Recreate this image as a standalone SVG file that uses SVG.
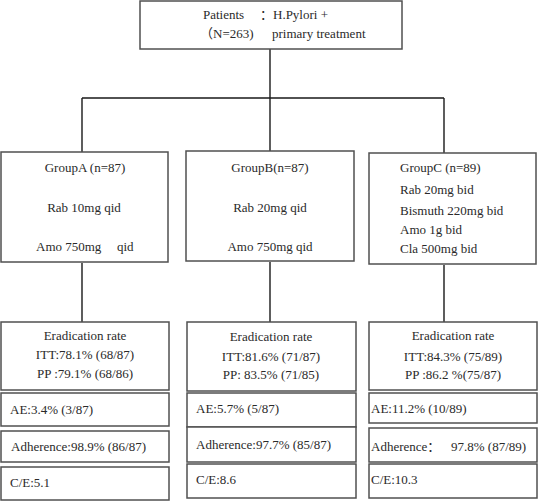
<svg xmlns="http://www.w3.org/2000/svg" width="539" height="501" viewBox="0 0 539 501">
<style>
.box{fill:#fff;stroke:#505050;stroke-width:1.5}
.t{font-family:"Liberation Serif","Noto Sans CJK SC",serif;font-size:13px;fill:#2a2a2a}
.c{text-anchor:middle}
.ln{stroke:#1a1a1a;stroke-width:1.4;fill:none}
</style>
<rect x="0" y="0" width="539" height="501" fill="#fff"/>
<g id="connectors">
<path class="ln" d="M270 49V151M82 98H444M82 98V152M444 98V153"/>
<path class="ln" d="M82 263V322M270 262V322M444 265V322"/>
</g>
<g id="patients">
<rect class="box" x="140" y="1" width="262" height="48"/>
<text class="t" x="203" y="19">Patients</text>
<text class="t" x="260" y="19">：H.Pylori +</text>
<text class="t" x="200" y="38">（N=263)</text>
<text class="t" x="272" y="38">primary treatment</text>
</g>
<g id="groupA">
<rect class="box" x="1" y="152" width="167" height="110"/>
<text class="t c" x="85" y="172">GroupA (n=87)</text>
<text class="t c" x="84" y="212">Rab 10mg qid</text>
<text class="t" x="36" y="251">Amo 750mg</text>
<text class="t" x="117" y="251">qid</text>
</g>
<g id="groupB">
<rect class="box" x="186" y="151" width="168" height="110"/>
<text class="t c" x="270" y="172">GroupB(n=87)</text>
<text class="t c" x="270" y="212">Rab 20mg qid</text>
<text class="t c" x="270" y="251">Amo 750mg qid</text>
</g>
<g id="groupC">
<rect class="box" x="369" y="153" width="167" height="111"/>
<text class="t" x="400" y="172">GroupC (n=89)</text>
<text class="t" x="400" y="194">Rab 20mg bid</text>
<text class="t" x="400" y="215">Bismuth 220mg bid</text>
<text class="t" x="400" y="234">Amo 1g bid</text>
<text class="t" x="400" y="253">Cla 500mg bid</text>
</g>
<g id="eradA">
<rect class="box" x="1" y="322" width="168" height="68"/>
<text class="t c" x="85" y="340">Eradication rate</text>
<text class="t c" x="85" y="359">ITT:78.1% (68/87)</text>
<text class="t c" x="85" y="378">PP :79.1% (68/86)</text>
</g>
<g id="aeA">
<rect class="box" x="1" y="393" width="168" height="33"/>
<text class="t" x="10" y="414">AE:3.4% (3/87)</text>
</g>
<g id="adhA">
<rect class="box" x="1" y="431" width="168" height="31"/>
<text class="t" x="11" y="451">Adherence:98.9% (86/87)</text>
</g>
<g id="ceA">
<rect class="box" x="1" y="467" width="168" height="33"/>
<text class="t" x="10" y="487">C/E:5.1</text>
</g>
<g id="eradB">
<rect class="box" x="187" y="322" width="169" height="69"/>
<text class="t c" x="271" y="341">Eradication rate</text>
<text class="t c" x="271" y="361">ITT:81.6% (71/87)</text>
<text class="t c" x="271" y="379">PP: 83.5% (71/85)</text>
</g>
<g id="aeB">
<rect class="box" x="187" y="393" width="169" height="34"/>
<text class="t" x="196" y="413">AE:5.7% (5/87)</text>
</g>
<g id="adhB">
<rect class="box" x="187" y="427" width="169" height="35"/>
<text class="t" x="196" y="449">Adherence:97.7% (85/87)</text>
</g>
<g id="ceB">
<rect class="box" x="187" y="464" width="169" height="34"/>
<text class="t" x="196" y="484">C/E:8.6</text>
</g>
<g id="eradC">
<rect class="box" x="369" y="322" width="168" height="68"/>
<text class="t c" x="453" y="340">Eradication rate</text>
<text class="t c" x="453" y="361">ITT:84.3% (75/89)</text>
<text class="t c" x="453" y="379">PP :86.2 %(75/87)</text>
</g>
<g id="aeC">
<rect class="box" x="369" y="393" width="168" height="30"/>
<text class="t" x="371" y="413">AE:11.2% (10/89)</text>
</g>
<g id="adhC">
<rect class="box" x="369" y="428" width="168" height="34"/>
<text class="t" x="371" y="451">Adherence：</text>
<text class="t" x="451" y="451">97.8% (87/89)</text>
</g>
<g id="ceC">
<rect class="box" x="369" y="464" width="168" height="34"/>
<text class="t" x="371" y="484">C/E:10.3</text>
</g>
</svg>
